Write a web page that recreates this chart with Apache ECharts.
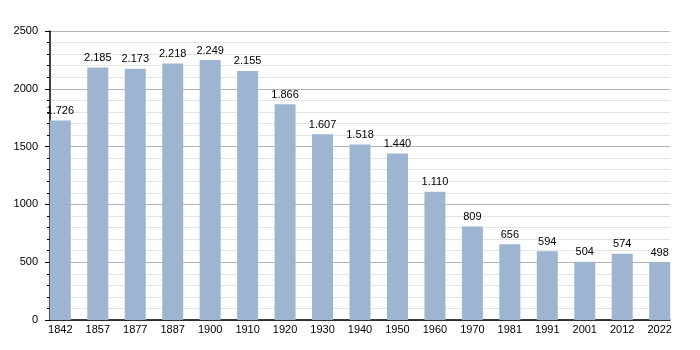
<!DOCTYPE html>
<html><head><meta charset="utf-8">
<script src="https://cdn.jsdelivr.net/npm/echarts@6/dist/echarts.min.js"></script>
<style>html,body{margin:0;padding:0;background:#fff}#c{width:700px;height:350px}</style>
</head><body><div id="c"></div>
<script>
const years = ['1842','1857','1877','1887','1900','1910','1920','1930','1940','1950','1960','1970','1981','1991','2001','2012','2022'];
const population = [1726,2185,2173,2218,2249,2155,1866,1607,1518,1440,1110,809,656,594,504,574,498];
const yTicks = [0,500,1000,1500,2000,2500];

const font = 'Liberation Sans';
const fmt = v => String(v).replace(/\B(?=(\d{3})+(?!\d))/g, '.');
const chart = echarts.init(document.getElementById('c'));
chart.setOption({
  animation: false,
  textStyle: {fontFamily: font},
  grid: [
    {left: 50, top: 31, width: 620, height: 289},
    {left: 41.6, top: 31, width: 636.8, height: 289}
  ],
  xAxis: [
    {gridIndex: 0, type: 'category', data: years, boundaryGap: true,
     axisLine: {lineStyle: {color: '#000', width: 1.5}}, axisTick: {show: false}, axisLabel: {show: false}},
    {gridIndex: 1, type: 'category', data: years,
     axisLine: {show: false}, axisTick: {show: false},
     axisLabel: {color: '#000', fontSize: 11, fontFamily: font, margin: 4}}
  ],
  yAxis: [
    {gridIndex: 0, type: 'value', min: yTicks[0], max: yTicks[yTicks.length-1], interval: 500,
     axisLine: {show: true, lineStyle: {color: '#000', width: 1.5}},
     axisTick: {show: true, length: 5, lineStyle: {color: '#000'}},
     minorTick: {show: true, splitNumber: 5, length: 3, lineStyle: {color: '#000'}},
     axisLabel: {color: '#000', fontSize: 11, fontFamily: font, margin: 12, formatter: v => String(v)},
     splitLine: {lineStyle: {color: '#b4b4b4'}},
     minorSplitLine: {show: true, lineStyle: {color: '#e4e4e4'}}},
    {gridIndex: 1, type: 'value', min: 0, max: 2500, show: false}
  ],
  series: [{
    type: 'bar', xAxisIndex: 1, yAxisIndex: 1, data: population, barWidth: 21,
    itemStyle: {color: '#9db5d0'},
    label: {show: true, position: 'top', distance: 4, color: '#000', fontSize: 11, fontFamily: font,
            formatter: p => fmt(p.value)}
  }]
});
</script></body></html>
